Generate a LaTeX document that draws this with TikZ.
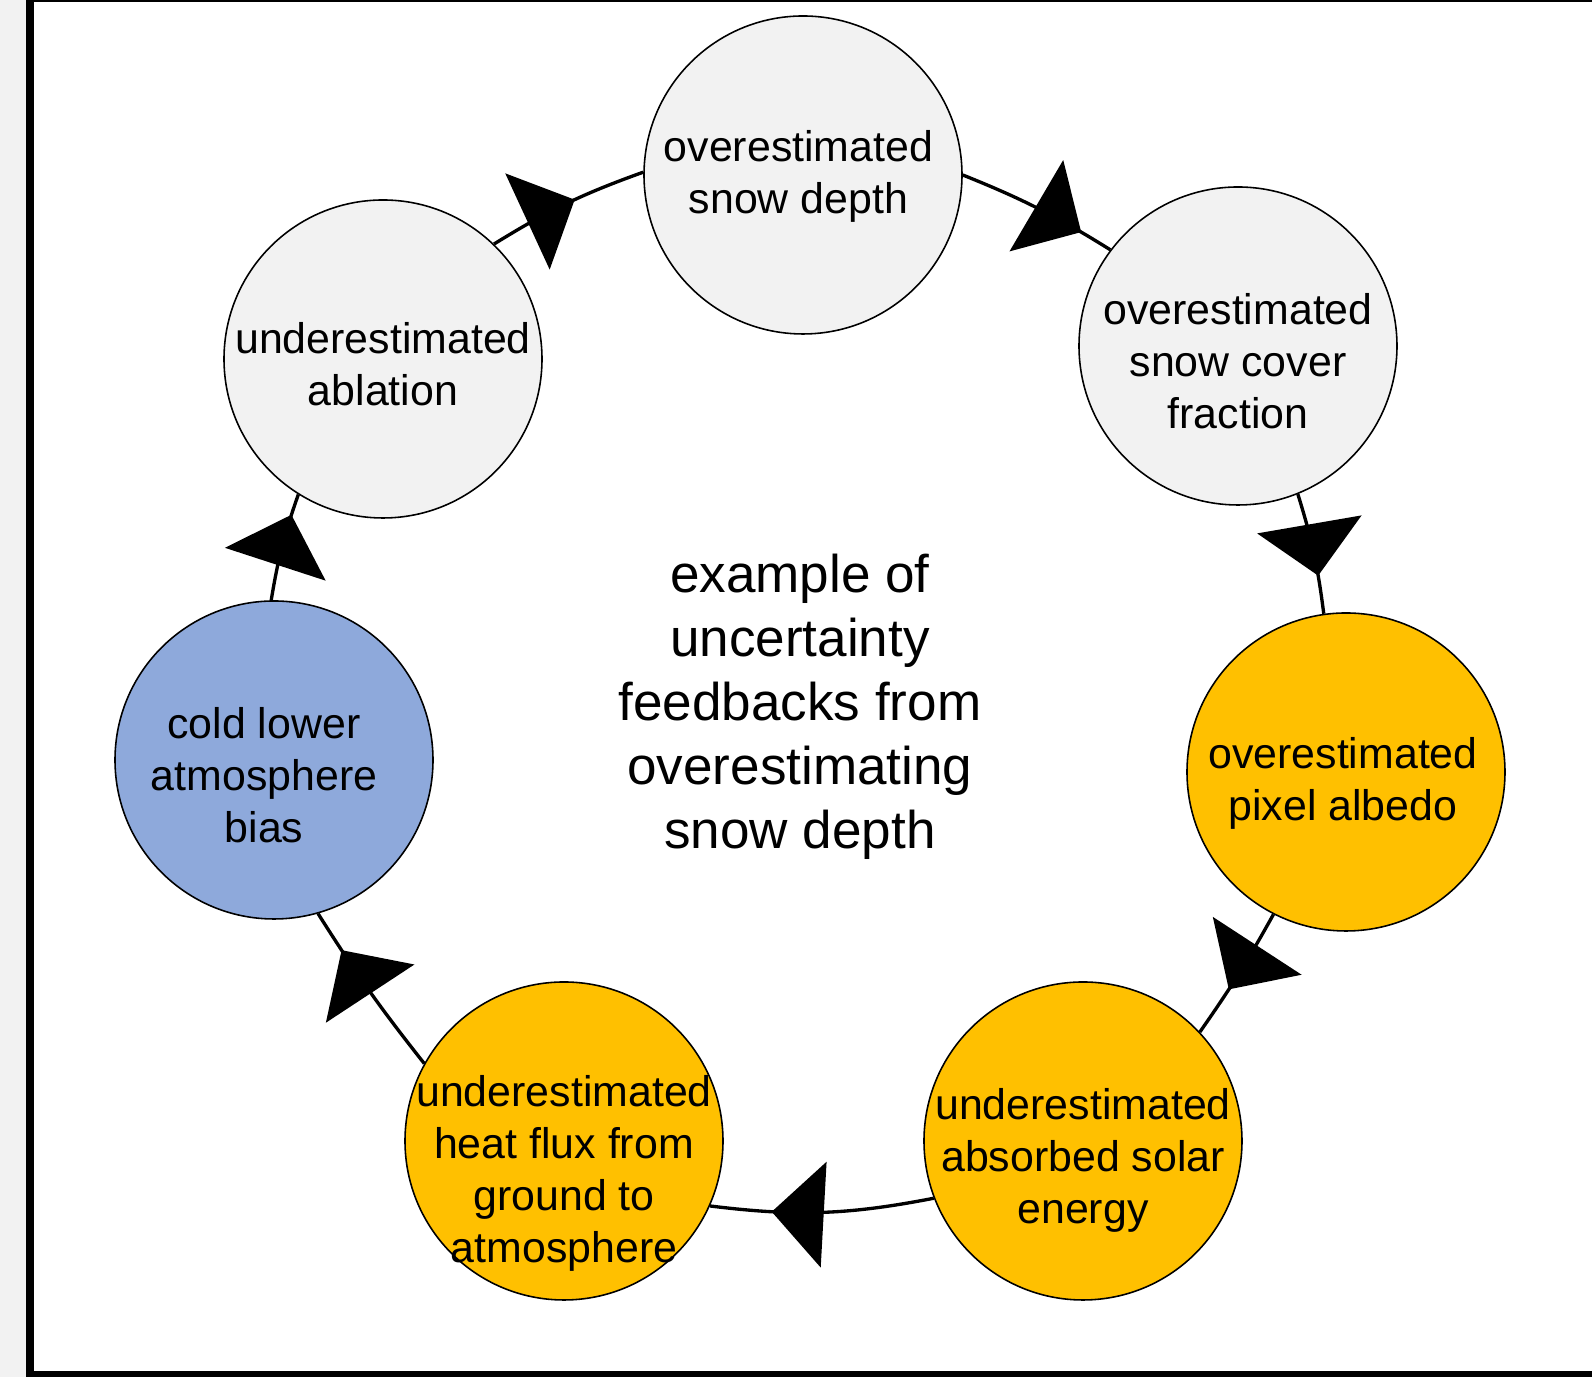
\documentclass[tikz,border=0pt]{standalone}
\usepackage{fontspec}
\setmainfont{Liberation Sans}
\usetikzlibrary{shapes.geometric}

\definecolor{snowgray}{HTML}{F2F2F2}
\definecolor{biasorange}{HTML}{FFC000}
\definecolor{coldblue}{HTML}{8EA9DB}

\begin{document}
\begin{tikzpicture}
[
    loopnode/.style={circle,draw=black,line width=0.45pt,minimum size=3.18cm,
        inner sep=0pt},
    looptext/.style={align=center,inner sep=0pt,
        font=\fontsize{12.2}{14.8}\selectfont},
    feedback/.style={line width=0.95pt},
    tipmark/.style={isosceles triangle,isosceles triangle stretches,
        fill=black,inner sep=0pt,outer sep=0pt,minimum width=10.6mm,
        minimum height=5.2mm,anchor=apex,sloped,allow upside down},
]

\useasboundingbox (0,0) rectangle (15.92,13.77);

% Page frame
\fill[snowgray] (0,0) rectangle (0.26,13.77);
\fill[black] (0.26,0) rectangle (0.34,13.77);
\fill[black] (0.26,0) rectangle (15.92,0.06);
\draw[line width=0.6pt] (0.34,13.765) -- (15.92,13.765);

% Feedback loop nodes
\node[loopnode,fill=snowgray,
    label={[looptext,xshift=-0.045cm,yshift=-0.01cm]center:{overestimated\\snow depth}}]
    (depth) at (8.03,12.02) {};
\node[loopnode,fill=snowgray,
    label={[looptext,yshift=-0.15cm]center:{overestimated\\snow cover\\fraction}}]
    (cover) at (12.38,10.31) {};
\node[loopnode,fill=biasorange,
    label={[looptext,xshift=-0.03cm,yshift=-0.11cm]center:{overestimated\\pixel albedo}}]
    (albedo) at (13.46,6.05) {};
\node[loopnode,fill=biasorange,
    label={[looptext,yshift=-0.19cm]center:{underestimated\\absorbed solar\\energy}}]
    (solar) at (10.83,2.36) {};
\node[loopnode,fill=biasorange,
    label={[looptext,yshift=-0.32cm]center:{underestimated\\heat flux from\\ground to\\atmosphere}}]
    (heat) at (5.64,2.36) {};
\node[loopnode,fill=coldblue,
    label={[looptext,xshift=-0.10cm,yshift=-0.15cm]center:{cold lower\\atmosphere\\bias}}]
    (cold) at (2.74,6.17) {};
\node[loopnode,fill=snowgray,
    label={[looptext,yshift=-0.05cm]center:{underestimated\\ablation}}]
    (ablation) at (3.83,10.18) {};

% Centre title
\node[align=center,font=\fontsize{15.1}{18.2}\selectfont] (title) at (8.00,6.70)
    {example of\\uncertainty\\feedbacks from\\overestimating\\snow depth};

% Arrows round the loop
\foreach \src/\sa/\dst/\ea/\bnd/\where in {
    ablation/46/depth/179/6/0.56, depth/0/cover/143/5/0.81,
    cover/-68/albedo/98/5/0.70, albedo/-117/solar/43/3/0.64,
    solar/201/heat/-24/9/0.74, heat/151/cold/-74/3/0.78,
    cold/91/ablation/-122/5/0.82}
    \draw[feedback] (\src.\sa) to[bend left=\bnd]
        node[tipmark,pos=\where] {} (\dst.\ea);

\end{tikzpicture}
\end{document}
